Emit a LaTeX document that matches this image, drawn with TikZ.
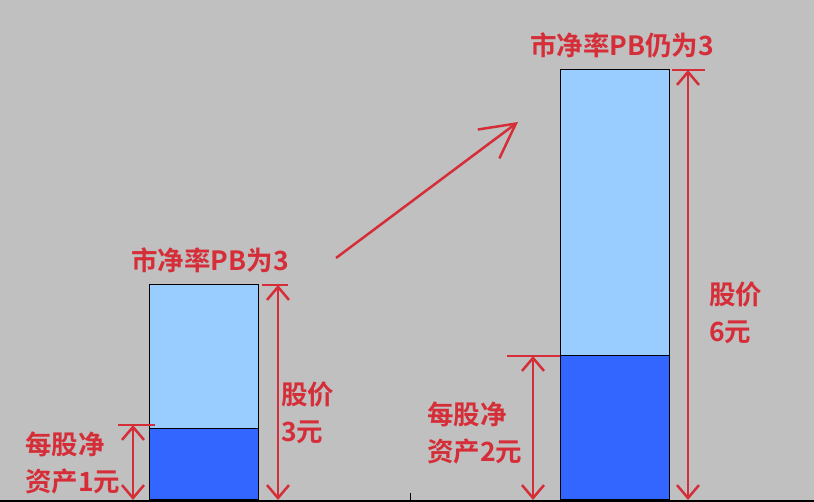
\documentclass[tikz,border=0pt]{standalone}
\usepackage{fontspec}
\newfontfamily\cjk{Noto Sans CJK SC}[BoldFont={Noto Sans CJK SC Bold}]
\usetikzlibrary{arrows.meta}
\usetikzlibrary{positioning}

\definecolor{bgGray}{RGB}{192,192,192}
\definecolor{navLight}{RGB}{153,204,255}
\definecolor{navDark}{RGB}{51,102,255}
\definecolor{markRed}{RGB}{214,46,56}

\tikzset{
  barbox/.style={draw=black, line width=0.8pt, inner sep=0pt, anchor=south west, minimum width=109pt},
  lightbar/.style={barbox, fill=navLight},
  darkbar/.style={barbox, fill=navDark},
  dimline/.style={markRed, line width=2.5pt},
  dimarrow/.style={dimline, {Straight Barb[length=13pt,width=22pt]}-{Straight Barb[length=13pt,width=22pt]}},
  redtext/.style={text=markRed, font=\cjk\bfseries\fontsize{26.5}{37}\selectfont, inner sep=0pt},
  sidetext/.style={redtext, align=left, anchor=west}
}

\begin{document}
\begin{tikzpicture}[x=1pt,y=1pt]
      \fill[bgGray] (0, 0) rectangle (814, 502);
      \useasboundingbox (0, 0) rectangle (814, 502);
      % bars
      \node[darkbar, minimum height=71pt] (nav1) at (149, 2) {};
      \node[lightbar, minimum height=144pt] (price1) at (149, 73) {};
      \node[darkbar, minimum height=144pt] (nav2) at (560, 2) {};
      \node[lightbar, minimum height=286pt] (price2) at (560, 146) {};
      % base line
      \draw[line width=1.5pt] (0, 1) -- (814, 1);
      \draw[line width=0.8pt] (410, 1) -- (410, 9);
      % dimension ends
      \coordinate (p1top) at (278, 217);
      \coordinate (p1bot) at (278, 2);
      \coordinate (n1top) at (133, 77);
      \coordinate (n1bot) at (133, 2);
      \coordinate (p2top) at (688, 432);
      \coordinate (p2bot) at (688, 2);
      \coordinate (n2top) at (533, 146);
      \coordinate (n2bot) at (533, 2);
      \draw[dimline] ([xshift=-16pt]p1top) -- ([xshift=10pt]p1top);
      \draw[dimline] ([xshift=-15pt]n1top) -- ([xshift=22pt]n1top);
      \draw[dimline] ([xshift=-16pt]p2top) -- ([xshift=17pt]p2top);
      \draw[dimline] ([xshift=-26pt]n2top) -- ([xshift=27pt]n2top);
      \draw[dimarrow] (p1top) -- (p1bot);
      \draw[dimarrow] (n1top) -- (n1bot);
      \draw[dimarrow] (p2top) -- (p2bot);
      \draw[dimarrow] (n2top) -- (n2bot);
      % labels
      \node[redtext] (pb1) at (210, 242) {市净率PB为3};
      \node[redtext] (pb2) at (622, 457) {市净率PB仍为3};
      \node[sidetext] (price1lbl) at (281, 89) {股价\\3元};
      \node[sidetext] (price2lbl) at (709, 189) {股价\\6元};
      \node[sidetext] (nav1lbl) at (25, 39) {每股净\\资产1元};
      \node[sidetext] (nav2lbl) at (427, 69) {每股净\\资产2元};
      % growth arrow
      \coordinate (grow1) at (336, 244);
      \coordinate (grow2) at (518, 380);
      \draw[dimline, -{Straight Barb[length=34pt,width=36pt]}] (grow1) -- (grow2);
    \end{tikzpicture}
\end{document}
